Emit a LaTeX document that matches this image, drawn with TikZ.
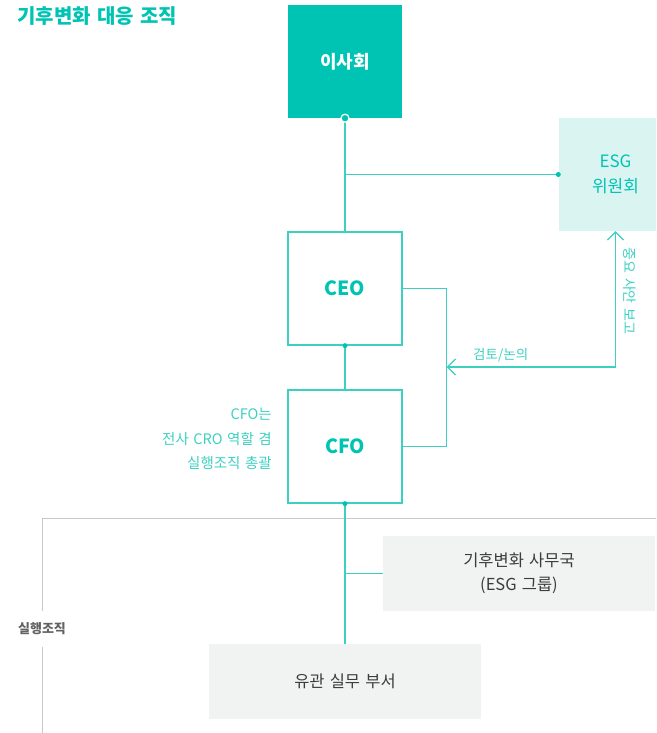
\documentclass[tikz,border=0pt]{standalone}
\usepackage{fontspec}
\setmainfont[WordSpace=1.4]{Noto Sans CJK KR}
\usetikzlibrary{arrows.meta,positioning}
\definecolor{ESGteal}{RGB}{0,196,179}
\definecolor{ESGline}{RGB}{60,208,193}
\definecolor{ESGmint}{RGB}{218,244,242}
\definecolor{ESGgray}{RGB}{241,243,242}
\definecolor{ESGtext}{RGB}{60,60,60}
\definecolor{ESGframe}{RGB}{200,200,200}
\tikzset{
  govbox/.style={minimum width=114pt, minimum height=113pt, inner sep=0pt, align=center},
  workbox/.style={fill=ESGgray, minimum width=272pt, minimum height=75pt, inner sep=0pt,
                  align=center, text=ESGtext, font=\fontsize{16.5}{24}\selectfont},
  link/.style={draw=ESGline, line width=1.5pt},
  joint/.style={circle, fill=ESGteal, inner sep=0pt, minimum size=5pt}
}

\begin{document}
\begin{tikzpicture}[x=1pt, y=-1pt, >=Stealth]
  \useasboundingbox (0,0) rectangle (656,733);
  \clip (0,0) rectangle (656,733);
  % title
  \node[anchor=west, inner xsep=0pt, text=ESGteal, font=\fontsize{20}{22}\selectfont\bfseries]
        (title) at (17,16) {기후변화 대응 조직};
  % governance
  \node[govbox, fill=ESGteal, text=white, font=\fontsize{18}{20}\selectfont\bfseries]
        (board) at (345,61.5) {이사회};
  \node[govbox, fill=ESGmint, text=ESGteal, font=\fontsize{17}{25}\selectfont]
        (esg) at (615.5,174.5) {ESG\\위원회};
  \node[govbox, draw=ESGline, line width=1.3pt, text=ESGteal, font=\fontsize{19.5}{20}\selectfont\bfseries]
        (ceo) at (345,288.5) {CEO};
  \node[govbox, draw=ESGline, line width=1.3pt, text=ESGteal, font=\fontsize{19.5}{20}\selectfont\bfseries]
        (cfo) at (345,446.5) {CFO};
  \node[anchor=east, inner xsep=0pt, align=right, text=ESGline, font=\fontsize{14.5}{24.5}\selectfont]
        (cfonote) at (272,439) {CFO는\\전사 CRO 역할 겸\\실행조직 총괄};
  % execution
  \draw[ESGframe, line width=1pt] (42,733) -- (42,518) -- (656,518);
  \node[fill=white, inner xsep=2pt, inner ysep=12pt, text=ESGtext!80,
        font=\fontsize{13}{15}\selectfont\bfseries] (exec) at (42,629) {실행조직};
  \node[workbox] (office) at (519,573.5) {기후변화 사무국\\(ESG 그룹)};
  \node[workbox] (dept) at (345,681.5) {유관 실무 부서};
  % connectors
  \draw[link] (board.south) -- (ceo.north);
  \draw[link] (board.south |- esg.west) -- (esg.west);
  \draw[link] (ceo.south) -- (cfo.north);
  \draw[link] (cfo.south) -- (dept.north);
  \draw[link] (cfo.south |- office.west) -- (office.west);
  \draw[draw=ESGline, line width=1.2pt] (ceo.east) -- ++(44,0) coordinate (rail) |- (cfo.east);
  \coordinate (railmid) at (rail |- 0,367);
  \draw[draw=ESGline, line width=1.2pt, {Straight Barb[length=8pt,width=16pt]}-{Straight Barb[length=8pt,width=16pt]}]
    (esg.south) |- node[pos=0.84, above=1pt, text=ESGline, font=\fontsize{13.5}{16}\selectfont]{검토/논의} (railmid);
  \node[rotate=-90, text=ESGline, font=\fontsize{14}{16}\selectfont] (report) at (630,291) {중요 사안 보고};
  % joints
  \node[joint, draw=white, line width=1.2pt, minimum size=8pt] at (board.south) {};
  \node[joint] at (esg.west) {};
  \node[joint] at (ceo.south) {};
  \node[joint] at (cfo.south) {};
\end{tikzpicture}
\end{document}
